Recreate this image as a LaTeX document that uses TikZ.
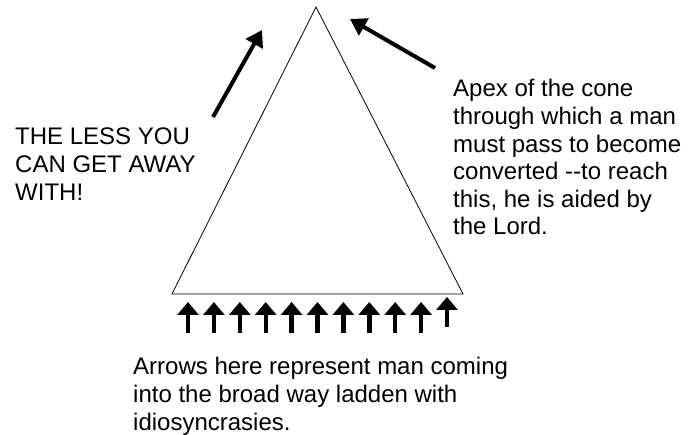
\documentclass[tikz,border=0pt]{standalone}
\usepackage{fontspec}
\setmainfont{Liberation Sans}
\usetikzlibrary{arrows.meta}
\begin{document}
\begin{tikzpicture}[x=1pt,y=-1pt,
  txt/.style={font=\fontsize{24}{27.6}\selectfont, align=left, inner sep=0pt, anchor=base west},
  bigarrow/.style={line width=4pt, -{Triangle[length=16pt,width=19pt]}},
  smallarrow/.style={line width=4.4pt, -{Triangle[length=13pt,width=21pt]}},
  cone/.style={draw, line width=0.8pt, line join=miter}]
\useasboundingbox (0,0) rectangle (689,435);
% cone
\coordinate (apex) at (316,7);
\coordinate (bl) at (172,294);
\coordinate (br) at (463,294);
\draw[cone] (apex) -- (br) -- (bl) -- cycle;
% texts (anchor is the baseline of the last line)
\node[txt] (left) at (15,200.2) {THE LESS YOU\\CAN GET AWAY\\WITH!};
\node[txt] (right) at (453,235) {Apex of the cone\\through which a man\\must pass to become\\converted {-}{-}to reach\\this, he is aided by\\the Lord.};
\node[txt] (bottom) at (133,430.2) {Arrows here represent man coming\\into the broad way ladden with\\idiosyncrasies.};
% big arrows
\coordinate (la0) at (213,117);
\coordinate (la1) at (262,30);
\coordinate (ra0) at (435,68);
\coordinate (ra1) at (350,19);
\draw[bigarrow] (la0) -- (la1);
\draw[bigarrow] (ra0) -- (ra1);
% small arrows
\foreach \i in {0,...,9}{
  \coordinate (s\i) at ({188+25.9*\i},333);
  \coordinate (e\i) at ({188+25.9*\i},302);
  \draw[smallarrow] (s\i) -- (e\i);
}
\coordinate (s10) at (447,327);
\coordinate (e10) at (447,297);
\draw[smallarrow] (s10) -- (e10);
\end{tikzpicture}
\end{document}
